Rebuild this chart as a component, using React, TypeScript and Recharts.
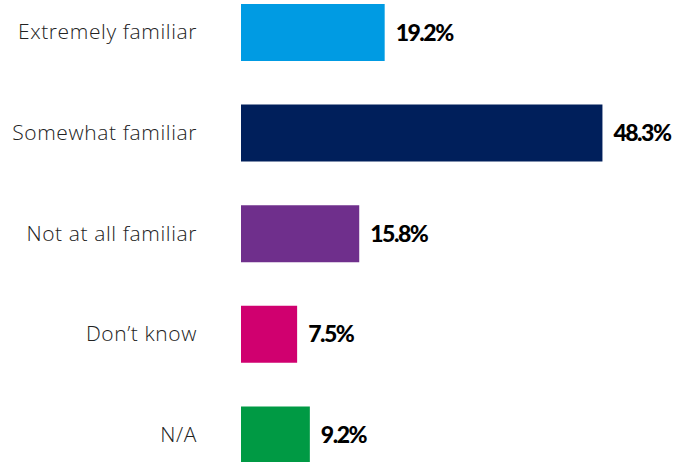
import { BarChart, Bar, XAxis, YAxis, Cell, LabelList } from 'recharts';

const categories = ['Extremely familiar', 'Somewhat familiar', 'Not at all familiar', 'Don\u2019t know', 'N/A'];
const shares = [19.2, 48.3, 15.8, 7.5, 9.2];
const barColors = ['#009BE3', '#001F5B', '#6F2F8C', '#D0006F', '#009A44'];

const data = categories.map((name, i) => ({ name, value: shares[i] }));

const CategoryTick = (props: any) => {
  const { x, y, payload } = props;
  return (
    <text
      x={x - 36}
      y={y}
      dy={7}
      textAnchor="end"
      fill="#222"
      fontFamily="'Open Sans', sans-serif"
      fontWeight={300}
      fontSize={21}
      letterSpacing={0.6}
    >
      {payload.value}
    </text>
  );
};

export default function App() {
  return (
    <div style={{ position: 'absolute', left: 0, top: 0, width: 696, height: 462, overflow: 'hidden', background: '#fff' }}>
      <div style={{ position: 'absolute', left: 0, top: -18 }}>
        <BarChart
          width={696}
          height={503}
          data={data}
          layout="vertical"
          margin={{ top: 0, right: 6, left: 0, bottom: 0 }}
          barCategoryGap={0}
        >
          <XAxis type="number" domain={[0, 60]} hide />
          <YAxis
            type="category"
            dataKey="name"
            width={241}
            axisLine={false}
            tickLine={false}
            tick={<CategoryTick />}
            interval={0}
          />
          <Bar dataKey="value" barSize={57} isAnimationActive={false}>
            {data.map((d, i) => (
              <Cell key={d.name} fill={barColors[i]} />
            ))}
            <LabelList
              dataKey="value"
              position="right"
              offset={11}
              formatter={(v: any) => `${v}%`}
              style={{ fill: '#000', fontFamily: 'Lato, sans-serif', fontWeight: 900, fontSize: 23, letterSpacing: -1.5 }}
            />
          </Bar>
        </BarChart>
      </div>
    </div>
  );
}
